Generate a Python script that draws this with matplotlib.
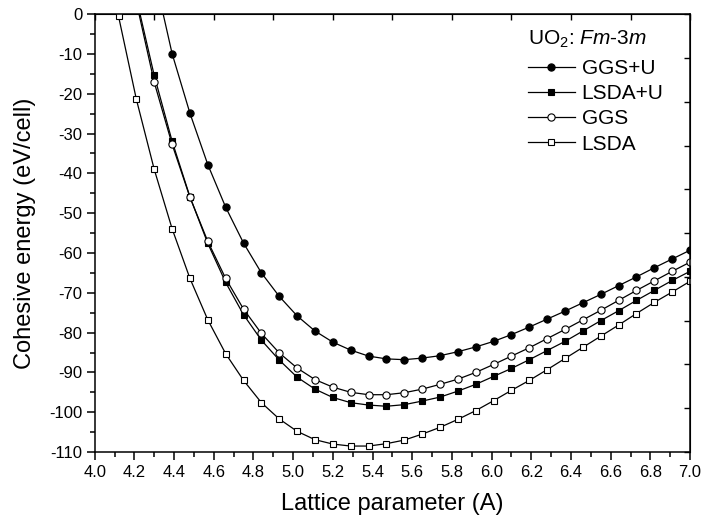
import numpy as np
import matplotlib
matplotlib.use("Agg")
import matplotlib.pyplot as plt
from matplotlib.ticker import MultipleLocator, NullFormatter

plt.rcParams['font.family'] = ['Liberation Sans', 'DejaVu Sans']
plt.rcParams['mathtext.fontset'] = 'custom'
plt.rcParams['mathtext.rm'] = 'Liberation Sans'
plt.rcParams['mathtext.it'] = 'Liberation Sans:italic'

# lattice parameter grid (A): 4.12 ... 7.00 in steps of 0.09
lattice = [4.12, 4.21, 4.30, 4.39, 4.48, 4.57, 4.66, 4.75, 4.84, 4.93, 5.02,
           5.11, 5.20, 5.29, 5.38, 5.47, 5.56, 5.65, 5.74, 5.83, 5.92, 6.01,
           6.10, 6.19, 6.28, 6.37, 6.46, 6.55, 6.64, 6.73, 6.82, 6.91, 7.00]

ggs_u = [None, None, 10.0, -9.9, -24.9, -37.8, -48.5, -57.5, -65.0, -70.9,
         -75.8, -79.6, -82.4, -84.4, -85.9, -86.6, -86.8, -86.4, -85.8, -84.8,
         -83.6, -82.2, -80.5, -78.6, -76.6, -74.6, -72.5, -70.4, -68.2, -66.0,
         -63.7, -61.5, -59.3]
lsda_u = [None, 4.0, -15.4, -31.9, -45.9, -57.6, -67.4, -75.5, -81.9, -86.9,
          -91.2, -94.2, -96.3, -97.6, -98.2, -98.5, -98.1, -97.2, -96.2, -94.7,
          -93.0, -91.0, -89.0, -86.8, -84.5, -82.2, -79.6, -77.0, -74.5, -71.9,
          -69.4, -66.9, -64.6]
ggs = [None, 3.0, -17.1, -32.7, -46.0, -57.1, -66.4, -74.1, -80.2, -85.1,
       -88.9, -91.8, -93.7, -95.0, -95.6, -95.6, -95.1, -94.2, -93.0, -91.7,
       -90.0, -88.0, -85.9, -83.8, -81.5, -79.2, -76.8, -74.4, -71.9, -69.4,
       -67.0, -64.6, -62.3]
lsda = [-0.5, -21.4, -39.0, -53.9, -66.4, -76.8, -85.3, -92.0, -97.6, -101.7,
        -104.8, -106.9, -108.0, -108.5, -108.5, -107.9, -107.0, -105.5, -103.8,
        -101.8, -99.6, -97.1, -94.5, -92.0, -89.3, -86.5, -83.7, -80.9, -78.1,
        -75.2, -72.4, -69.8, -67.1]

series = [
    ("GGS+U", ggs_u, 'o', 'black', 5.2),
    ("LSDA+U", lsda_u, 's', 'black', 4.6),
    ("GGS", ggs, 'o', 'white', 5.2),
    ("LSDA", lsda, 's', 'white', 4.6),
]

fig = plt.figure(figsize=(7.02, 5.25), dpi=100)
ax = fig.add_axes([0.1349, 0.139, 0.983 - 0.1349, 0.973 - 0.139])

for name, vals, mk, fc, ms in series:
    xs = [x for x, v in zip(lattice, vals) if v is not None]
    ys = [v for v in vals if v is not None]
    ax.plot(xs, ys, '-', color='black', lw=0.9, marker=mk, ms=ms,
            mfc=fc, mec='black', mew=0.8, label=name)

ax.set_xlim(4.0, 7.0)
ax.set_ylim(-110, 0)
ax.xaxis.set_major_locator(MultipleLocator(0.2))
ax.xaxis.set_minor_locator(MultipleLocator(0.1))
ax.yaxis.set_major_locator(MultipleLocator(10))
ax.yaxis.set_minor_locator(MultipleLocator(5))
ax.xaxis.set_major_formatter(matplotlib.ticker.FormatStrFormatter('%.1f'))
ax.yaxis.set_major_formatter(matplotlib.ticker.FuncFormatter(lambda v, p: '%d' % round(v)))
ax.tick_params(which='major', direction='out', length=5.5, width=1.1, labelsize=12, pad=3.5)
ax.tick_params(which='minor', direction='out', length=3.5, width=1.1)
ax.tick_params(top=False, right=False)
for s in ax.spines.values():
    s.set_linewidth(1.1)

secx = ax.secondary_xaxis('top')
secx.set_xticks(np.linspace(4.0, 7.0, 11))
secx.xaxis.set_major_formatter(NullFormatter())
secx.tick_params(direction='in', length=4, width=1.0)
secy = ax.secondary_yaxis('right')
secy.set_yticks(np.linspace(-110, 0, 11))
secy.yaxis.set_major_formatter(NullFormatter())
secy.tick_params(direction='in', length=4, width=1.0)

ax.set_xlabel('Lattice parameter (A)', fontsize=17, labelpad=10)
ax.set_ylabel('Cohesive energy (eV/cell)', fontsize=17, labelpad=9)

fig.text(528 / 702, 1 - 45 / 525, r'UO$_2$: $\mathit{Fm}$-$\mathit{3m}$',
         fontsize=15, ha='left', va='baseline')

leg = ax.legend(loc='upper left', bbox_to_anchor=(528 / 702, 1 - 59 / 525),
                bbox_transform=fig.transFigure, frameon=False,
                fontsize=15, handlelength=2.25, handletextpad=0.32,
                labelspacing=0.3, borderpad=0, borderaxespad=0)

fig.savefig('out.png', dpi=100)
